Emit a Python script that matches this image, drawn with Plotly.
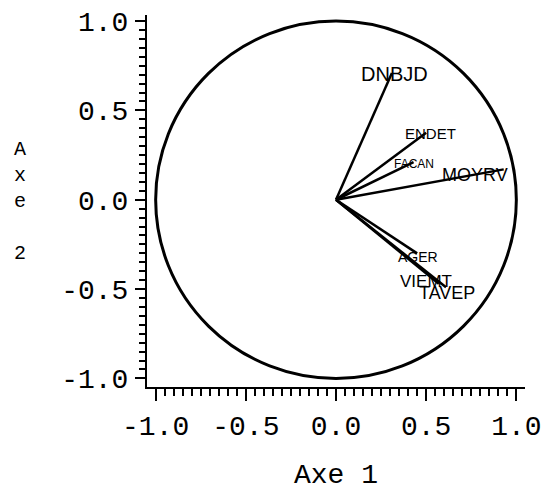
import plotly.graph_objects as go

# ---- data ----
variables = ["DNBJD", "ENDET", "FACAN", "MOYRV", "AGER", "VIEMT", "TAVEP"]
axe1 = [0.31, 0.50, 0.43, 0.93, 0.45, 0.57, 0.61]
axe2 = [0.71, 0.375, 0.21, 0.17, -0.30, -0.47, -0.49]
tick_values = [-1.0, -0.5, 0.0, 0.5, 1.0]
tick_labels = ["-1.0", "-0.5", "0.0", "0.5", "1.0"]
x_title = "Axe 1"
y_title = "Axe 2"

# ---- styles: (font size, xshift px, yshift px) for each label ----
label_style = {
    "DNBJD": (20, 3, -1),
    "ENDET": (15, 4, -1),
    "FACAN": (12, 0, -2),
    "MOYRV": (18, -29, -6),
    "AGER": (14, 1, -4),
    "VIEMT": (17, -13, 2),
    "TAVEP": (18, 1, -6),
}
MONO = "Liberation Mono, Courier New, monospace"
SANS = "Liberation Sans, Arial, sans-serif"

fig = go.Figure()

for name, vx, vy in zip(variables, axe1, axe2):
    fig.add_trace(go.Scatter(x=[0, vx], y=[0, vy], mode="lines",
                             line=dict(color="black", width=2.5),
                             hoverinfo="skip", showlegend=False))

# correlation circle (unit circle)
fig.add_shape(type="circle", xref="x", yref="y", x0=-1, y0=-1, x1=1, y1=1,
              line=dict(color="black", width=3))

annotations = []
for name, vx, vy in zip(variables, axe1, axe2):
    size, dx, dy = label_style[name]
    annotations.append(dict(x=vx, y=vy, xref="x", yref="y", text=name,
                            showarrow=False, xshift=dx, yshift=dy,
                            xanchor="center", yanchor="middle",
                            font=dict(family=SANS, size=size, color="black")))

annotations.append(dict(x=0.5, y=-0.2366, xref="paper", yref="paper",
                        text=x_title, showarrow=False,
                        xanchor="center", yanchor="middle",
                        font=dict(family=MONO, size=28, color="black")))
y_title_stacked = "<br>".join(list(y_title.replace(" ", "\u00a0"))).replace("\u00a0", "")
annotations.append(dict(x=-0.336, y=0.50, xref="paper", yref="paper",
                        text=y_title_stacked,
                        showarrow=False, xanchor="center", yanchor="middle",
                        align="center",
                        font=dict(family=MONO, size=20, color="black")))

axis_common = dict(
    showline=True, linecolor="black", linewidth=2,
    ticks="outside", tickwidth=2, tickcolor="black",
    tickvals=tick_values, ticktext=tick_labels,
    tickfont=dict(family=MONO, size=28, color="black"),
    showgrid=False, zeroline=False, mirror=False, automargin=False,
)

fig.update_layout(
    width=544, height=490,
    margin=dict(l=147, r=19, t=15, b=103),
    plot_bgcolor="white", paper_bgcolor="white",
    showlegend=False,
    annotations=annotations,
    xaxis=dict(range=[-1.048, 1.048], ticklen=12, ticklabelstandoff=0,
               minor=dict(dtick=0.05, tick0=0, ticks="outside", ticklen=7,
                          tickwidth=2, tickcolor="black", showgrid=False),
               **axis_common),
    yaxis=dict(range=[-1.048, 1.034], ticklen=10, ticklabelstandoff=1,
               minor=dict(dtick=0.05, tick0=0, ticks="outside", ticklen=6,
                          tickwidth=2, tickcolor="black", showgrid=False),
               **axis_common),
)

fig.write_html("out.html")
